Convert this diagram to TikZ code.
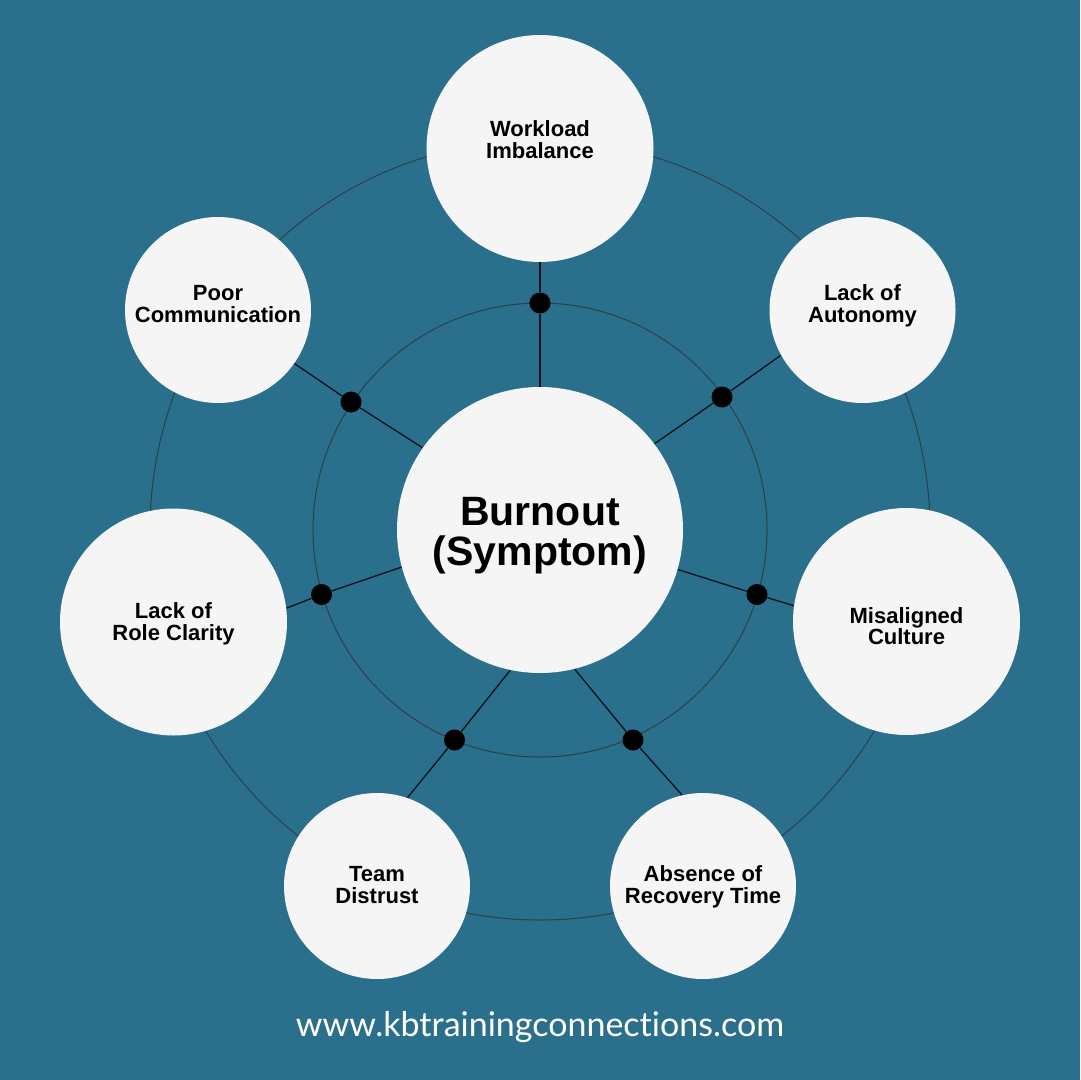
\documentclass[tikz,border=0pt]{standalone}
\usepackage{fontspec}
\setmainfont{Liberation Sans}
\newfontfamily\webfont{Lato}[Ligatures=NoCommon]
\usepackage{tikz}
\usetikzlibrary{calc}
\usepackage{xcolor}
\definecolor{pagebg}{RGB}{42,111,140}
\definecolor{bubblefill}{RGB}{245,245,245}
\definecolor{ringgray}{RGB}{44,64,74}
\definecolor{spokeblack}{RGB}{8,18,24}

\begin{document}
\begin{tikzpicture}[x=0.5pt, y=-0.5pt,
	bubble/.style={circle, fill=bubblefill, inner sep=0pt},
	bigbubble/.style={bubble, minimum size=113.5pt},
	smallbubble/.style={bubble, minimum size=93pt},
	caption/.style={text=black, align=center, inner sep=0pt,
		font=\bfseries\fontsize{11}{10.8}\selectfont},
	knot/.style={circle, fill=black, inner sep=0pt, minimum size=10.5pt},
	ring/.style={draw=ringgray, line width=0.5pt},
	spoke/.style={draw=spokeblack, line width=0.65pt}]
	\fill [pagebg] (0,0) rectangle (1080,1080);
	\useasboundingbox (0,0) rectangle (1080,1080);
	\coordinate (o) at (540,530);
	\draw [ring] (o) circle [radius=195pt];
	\draw [ring] (o) circle [radius=113.5pt];
	\node [bubble, minimum size=143pt] (burnout) at (o) {};
	\node [bigbubble] (work) at (540,148.5) {};
	\node [smallbubble] (auto) at (862.5,310) {};
	\node [bigbubble] (cult) at (906.5,621.5) {};
	\node [smallbubble] (recov) at (703,886) {};
	\node [smallbubble] (team) at (377,886) {};
	\node [bigbubble] (role) at (173.5,622) {};
	\node [smallbubble] (poor) at (218,310) {};
	% spoke: bubble / border angle on burnout / on bubble / knot position
	\foreach \s/\a/\b/\x/\y in {work/90/270/540/303, auto/37.1/209.7/722/397,
		cult/344.6/172.5/757/594.5, recov/284.6/103.9/633/740,
		team/258.9/71.9/454.5/740, role/195.4/7.5/321.5/594.5,
		poor/145.7/325.7/351/402} {
		\node [knot] (k\s) at (\x,\y) {};
		\draw [spoke] (burnout.\a) -- (k\s) -- (\s.\b);
	}
	% texts, nudged a little off the circle centres
	\node [caption, font=\bfseries\fontsize{20.5}{20}\selectfont] (burnoutt)
		at ([yshift=-3pt]burnout) {Burnout\\(Symptom)};
	\node [caption] (workt) at ([yshift=4.5pt]work) {Workload\\Imbalance};
	\node [caption] (autot) at ([yshift=2pt]auto) {Lack of\\Autonomy};
	\node [caption] (cultt) at ([yshift=-2.25pt]cult) {Misaligned\\Culture};
	\node [caption] (recovt) at ([yshift=-0.5pt]recov) {Absence of\\Recovery Time};
	\node [caption] (teamt) at ([yshift=0.5pt]team) {Team\\Distrust};
	\node [caption] (rolet) at ([yshift=-1pt]role) {Lack of\\Role Clarity};
	\node [caption] (poort) at ([yshift=3pt]poor) {Poor\\Communication};
	\path (540,1027) node [text=white, font=\webfont\fontsize{17}{18}\selectfont] (web)
		{www.kbtrainingconnections.com};
\end{tikzpicture}
\end{document}
